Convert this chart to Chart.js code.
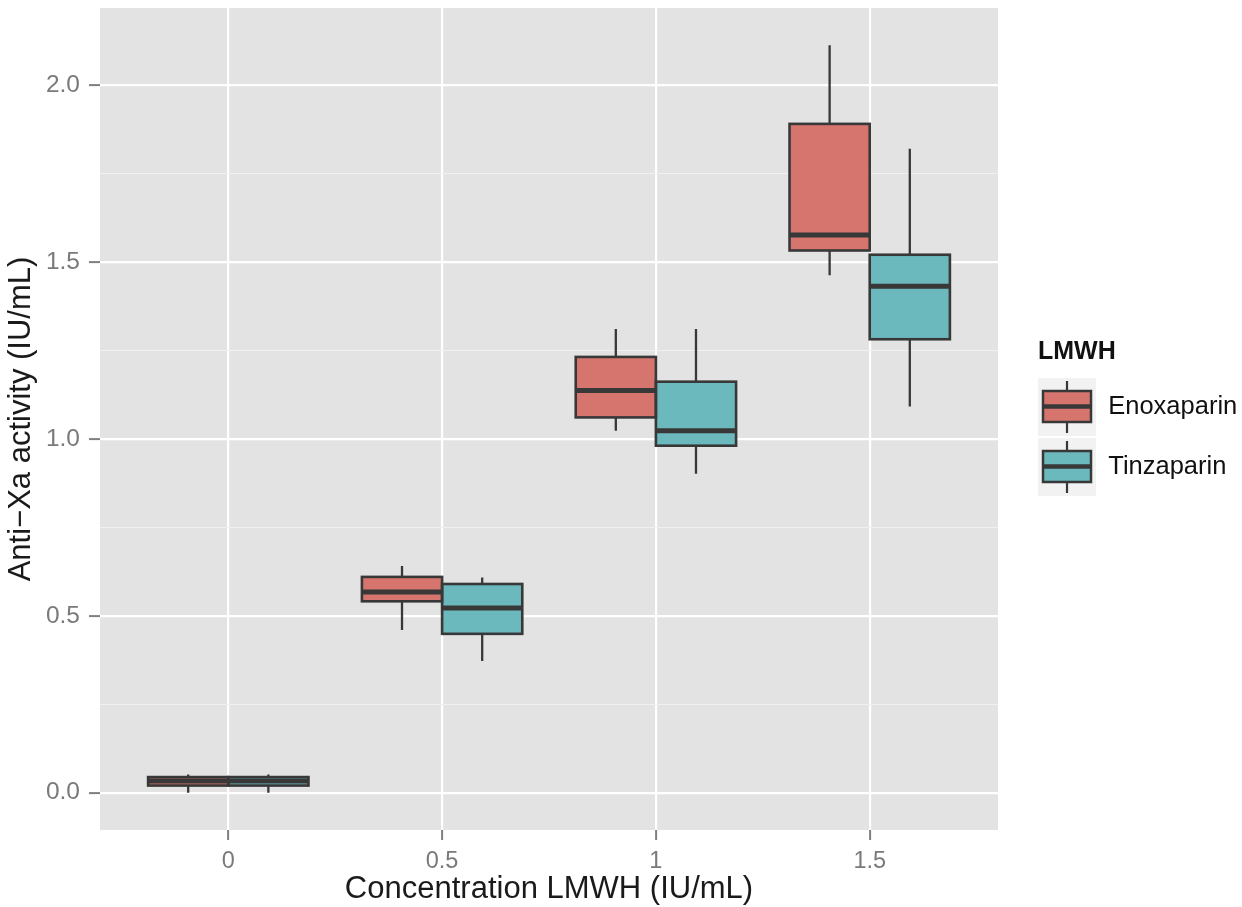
<!DOCTYPE html>
<html>
<head>
<meta charset="utf-8">
<script src="https://cdn.jsdelivr.net/npm/chart.js@4.4.1/dist/chart.umd.min.js"></script>
<style>
  html, body { margin: 0; padding: 0; background: #ffffff; }
  #wrap { width: 1242px; height: 907px; position: relative; }
</style>
</head>
<body>
<div id="wrap"><canvas id="c" width="1242" height="907"></canvas></div>
<script>
// ---- data ----
const categories = ['0', '0.5', '1', '1.5'];
const seriesNames = ['Enoxaparin', 'Tinzaparin'];

const enoxLow  = [0.000, 0.460, 1.023, 1.463];
const enoxQ1   = [0.020, 0.541, 1.061, 1.533];
const enoxMed  = [0.033, 0.567, 1.137, 1.577];
const enoxQ3   = [0.044, 0.610, 1.232, 1.891];
const enoxHigh = [0.051, 0.641, 1.311, 2.113];

const tinzLow  = [0.000, 0.372, 0.902, 1.092];
const tinzQ1   = [0.020, 0.449, 0.981, 1.282];
const tinzMed  = [0.033, 0.522, 1.023, 1.432];
const tinzQ3   = [0.044, 0.590, 1.162, 1.521];
const tinzHigh = [0.051, 0.608, 1.311, 1.821];

const yMajorTicks = [0, 0.5, 1.0, 1.5, 2.0];
const yMinorTicks = [0.25, 0.75, 1.25, 1.75];

// ---- styling ----
const FONT = "'Liberation Sans', Arial, Helvetica, sans-serif";
const enoxFill = '#D5756D';
const tinzFill = '#6BB8BD';
const outline = '#383838';
const panelBg = '#E3E3E3';

// ggplot-style continuous expansion (5%) from data range
const allLow = enoxLow.concat(tinzLow);
const allHigh = enoxHigh.concat(tinzHigh);
const dMin = Math.min(...allLow), dMax = Math.max(...allHigh);
const yMin = dMin - 0.05 * (dMax - dMin);
const yMax = dMax + 0.05 * (dMax - dMin);

function makeDataset(label, low, q1, med, q3, high, fill) {
  return {
    label: label,
    data: categories.map((c, i) => ({ x: i + 1, y: [q1[i], q3[i]] })),
    backgroundColor: fill,
    borderWidth: 0,
    xAxisID: 'x',
    yAxisID: 'y',
    boxLow: low, boxQ1: q1, boxMed: med, boxQ3: q3, boxHigh: high
  };
}

// legend key glyphs (ggplot-like boxplot key)
const LEG_PAD = 34.5, LEG_W = 23;
function makeKey(fill) {
  const c = document.createElement('canvas');
  c.width = Math.round(2 * LEG_PAD + LEG_W);
  c.height = 58;
  const g = c.getContext('2d');
  g.fillStyle = '#F2F2F2';
  g.fillRect(0, 0, 58, 58);
  g.strokeStyle = outline;
  g.lineWidth = 2.2;
  g.beginPath(); g.moveTo(29, 3); g.lineTo(29, 55); g.stroke();
  g.fillStyle = fill;
  g.fillRect(5, 13, 48, 31);
  g.lineWidth = 2.5;
  g.strokeRect(5, 13, 48, 31);
  g.lineWidth = 4.5;
  g.beginPath(); g.moveTo(5, 28.5); g.lineTo(53, 28.5); g.stroke();
  return c;
}
const keyImages = [makeKey(enoxFill), makeKey(tinzFill)];

const bgPlugin = {
  id: 'panelBg',
  beforeDraw(chart) {
    const { ctx, chartArea } = chart;
    ctx.save();
    ctx.fillStyle = '#ffffff';
    ctx.fillRect(0, 0, chart.width, chart.height);
    ctx.fillStyle = panelBg;
    ctx.fillRect(chartArea.left, chartArea.top, chartArea.right - chartArea.left, chartArea.bottom - chartArea.top);
    ctx.restore();
  }
};

const boxPlugin = {
  id: 'boxParts',
  beforeDatasetsDraw(chart) {
    const ctx = chart.ctx, ys = chart.scales.y;
    ctx.save();
    ctx.strokeStyle = outline;
    ctx.lineWidth = 2.3;
    chart.data.datasets.forEach((ds, di) => {
      chart.getDatasetMeta(di).data.forEach((bar, i) => {
        const x = bar.x;
        ctx.beginPath();
        ctx.moveTo(x, ys.getPixelForValue(ds.boxQ3[i]));
        ctx.lineTo(x, ys.getPixelForValue(ds.boxHigh[i]));
        ctx.moveTo(x, ys.getPixelForValue(ds.boxQ1[i]));
        ctx.lineTo(x, ys.getPixelForValue(ds.boxLow[i]));
        ctx.stroke();
      });
    });
    ctx.restore();
  },
  afterDatasetsDraw(chart) {
    const ctx = chart.ctx, ys = chart.scales.y;
    ctx.save();
    ctx.strokeStyle = outline;
    chart.data.datasets.forEach((ds, di) => {
      chart.getDatasetMeta(di).data.forEach((bar, i) => {
        const left = bar.x - bar.width / 2, right = bar.x + bar.width / 2;
        const top = ys.getPixelForValue(ds.boxQ3[i]);
        const bottom = ys.getPixelForValue(ds.boxQ1[i]);
        ctx.lineWidth = 2.6;
        ctx.strokeRect(left, top, right - left, bottom - top);
        const ym = ys.getPixelForValue(ds.boxMed[i]);
        ctx.lineWidth = 5;
        ctx.beginPath();
        ctx.moveTo(left, ym);
        ctx.lineTo(right, ym);
        ctx.stroke();
      });
    });
    ctx.restore();
  }
};

const isMajorY = v => yMajorTicks.some(t => Math.abs(t - v) < 1e-9);

new Chart(document.getElementById('c'), {
  type: 'bar',
  data: {
    datasets: [
      makeDataset(seriesNames[0], enoxLow, enoxQ1, enoxMed, enoxQ3, enoxHigh, enoxFill),
      makeDataset(seriesNames[1], tinzLow, tinzQ1, tinzMed, tinzQ3, tinzHigh, tinzFill)
    ]
  },
  options: {
    responsive: false,
    animation: false,
    devicePixelRatio: 1,
    events: [],
    categoryPercentage: 0.75,
    barPercentage: 1.0,
    layout: { padding: { top: 8, right: 0, bottom: 0, left: 0 } },
    scales: {
      x: {
        type: 'linear',
        position: 'bottom',
        offset: false,
        min: 0.4,
        max: categories.length + 0.6,
        afterBuildTicks(s) { s.ticks = categories.map((c, i) => ({ value: i + 1 })); },
        afterFit(s) { s.height = 77; s.paddingLeft = 0; s.paddingRight = 0; },
        ticks: {
          autoSkip: false, maxRotation: 0, minRotation: 0,
          callback: (v, i) => categories[i],
          color: '#7A7A7A',
          font: { family: FONT, size: 23.5 },
          padding: 7
        },
        grid: {
          offset: false,
          color: '#FFFFFF', lineWidth: 2.2,
          tickColor: '#7F7F7F', tickWidth: 2, tickLength: 10
        },
        border: { display: false },
        title: {
          display: true, text: 'Concentration LMWH (IU/mL)',
          color: '#1A1A1A',
          font: { family: FONT, size: 31, lineHeight: 1 },
          padding: { top: 0, bottom: 2 }
        }
      },
      y: {
        type: 'linear',
        position: 'left',
        min: yMin,
        max: yMax,
        afterBuildTicks(s) {
          s.ticks = yMajorTicks.concat(yMinorTicks).sort((a, b) => a - b).map(v => ({ value: v }));
        },
        afterFit(s) { s.width = 100; s.paddingTop = 0; s.paddingBottom = 0; },
        ticks: {
          autoSkip: false,
          callback: v => isMajorY(v) ? v.toFixed(1) : '',
          color: '#7A7A7A',
          font: { family: FONT, size: 24.5 },
          padding: 9
        },
        grid: {
          color: c => isMajorY(c.tick.value) ? '#FFFFFF' : '#F1F1F1',
          lineWidth: c => isMajorY(c.tick.value) ? 2.2 : 1.1,
          tickColor: c => isMajorY(c.tick.value) ? '#7F7F7F' : 'rgba(0,0,0,0)',
          tickWidth: 2, tickLength: 11
        },
        border: { display: false },
        title: {
          display: true, text: 'Anti\u2212Xa activity (IU/mL)',
          color: '#1A1A1A',
          font: { family: FONT, size: 31, lineHeight: 1 },
          padding: { top: 5.5, bottom: 0 }
        }
      },
      yPad: {
        type: 'linear',
        position: 'right',
        display: true,
        grid: { display: false, drawTicks: false },
        border: { display: false },
        ticks: { display: false },
        afterFit(s) { s.width = 40; s.paddingTop = 0; s.paddingBottom = 0; }
      }
    },
    plugins: {
      tooltip: { enabled: false },
      legend: {
        display: true,
        position: 'right',
        fullSize: false,
        maxWidth: 204,
        align: 'center',
        title: {
          display: true, text: 'LMWH', position: 'start',
          color: '#111111',
          font: { family: FONT, size: 25, weight: 'bold', lineHeight: 0.8 },
          padding: { top: 15.5, bottom: 0.5 }
        },
        labels: {
          usePointStyle: true,
          pointStyleWidth: LEG_W,
          padding: LEG_PAD,
          color: '#1A1A1A',
          font: { family: FONT, size: 25.5 },
          generateLabels: chart => chart.data.datasets.map((ds, i) => ({
            text: ds.label,
            pointStyle: keyImages[i],
            fillStyle: ds.backgroundColor,
            strokeStyle: 'rgba(0,0,0,0)',
            lineWidth: 0,
            hidden: false,
            datasetIndex: i
          }))
        }
      }
    }
  },
  plugins: [bgPlugin, boxPlugin]
});
</script>
</body>
</html>
